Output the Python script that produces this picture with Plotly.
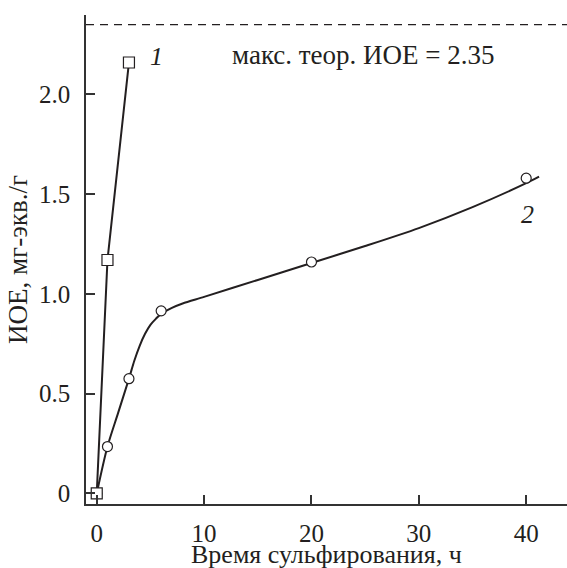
import plotly.graph_objects as go

# Sulfonation time, h, and ion-exchange capacity (IEC), mg-eq/g
time_1 = [0, 1, 3]
iec_1 = [0, 1.17, 2.16]

time_2 = [0, 1, 3, 6, 20, 40]
iec_2 = [0, 0.235, 0.575, 0.915, 1.16, 1.58]

# smoothed trend drawn through series 2
trend_time_2 = [0, 1, 2, 3, 3.5, 4, 4.5, 5, 5.5, 6, 7, 8, 10, 15, 20, 25, 30, 35, 40, 41.2]
trend_iec_2 = [0, 0.235, 0.405, 0.575, 0.665, 0.74, 0.8, 0.845, 0.875, 0.9, 0.93, 0.952, 0.985, 1.07, 1.155, 1.24, 1.33, 1.435, 1.555, 1.588]

max_theor_iec = 2.35

x_ticks = [0, 10, 20, 30, 40]
y_ticks = [0, 0.5, 1.0, 1.5, 2.0]
y_tick_labels = ["0", "0.5", "1.0", "1.5", "2.0"]

FONT = "Liberation Serif"
INK = "#231f20"
AXIS = "#333333"

fig = go.Figure()

# theoretical maximum, dashed
fig.add_trace(go.Scatter(
    x=[-1, 43.8], y=[max_theor_iec, max_theor_iec], mode="lines",
    line=dict(color=INK, width=1.3, dash="8px,6px"), hoverinfo="skip",
))

# series 2: smooth curve then markers
fig.add_trace(go.Scatter(
    x=trend_time_2, y=trend_iec_2, mode="lines",
    line=dict(color=INK, width=2, shape="spline", smoothing=0.8),
))
fig.add_trace(go.Scatter(
    x=time_2, y=iec_2, mode="markers",
    marker=dict(symbol="circle", size=10, color="white", line=dict(color=INK, width=1.2)),
))

# series 1: straight segments with square markers
fig.add_trace(go.Scatter(
    x=time_1, y=iec_1, mode="lines+markers",
    line=dict(color=INK, width=2),
    marker=dict(symbol="square", size=11, color="white", line=dict(color=INK, width=1.2)),
))

fig.add_annotation(x=24.87, y=2.20, text="макс. теор. ИОЕ = 2.35", showarrow=False,
                   font=dict(family=FONT, size=27, color=INK), xanchor="center", yanchor="middle")
fig.add_annotation(x=5.55, y=2.19, text="<i>1</i>", showarrow=False,
                   font=dict(family=FONT, size=26, color=INK), xanchor="center", yanchor="middle")
fig.add_annotation(x=40.1, y=1.40, text="<i>2</i>", showarrow=False,
                   font=dict(family=FONT, size=26, color=INK), xanchor="center", yanchor="middle")

# x-axis title, set just below the tick labels
fig.add_annotation(x=0.5, y=-0.0695, xref="paper", yref="paper", text="Время сульфирования, ч",
                   showarrow=False, font=dict(family=FONT, size=26, color=INK),
                   xanchor="center", yanchor="top")

axis_common = dict(
    showgrid=False, zeroline=False, showline=True, linecolor=AXIS, linewidth=1.5,
    ticks="inside", ticklen=9, tickwidth=1.5, tickcolor=AXIS, mirror=False,
    tickfont=dict(family=FONT, size=25, color=INK),
)

fig.update_layout(
    width=567, height=568,
    margin=dict(l=86, r=0, t=15, b=64, autoexpand=False),
    paper_bgcolor="white", plot_bgcolor="white",
    showlegend=False,
    xaxis=dict(range=[-1, 43.8], tickvals=x_ticks, ticklabelstandoff=6, automargin=False,
               **axis_common),
    yaxis=dict(range=[-0.053, 2.398], tickvals=y_ticks, ticktext=y_tick_labels, ticklabelstandoff=9,
               automargin=False,
               title=dict(text="ИОЕ, мг-экв./г", font=dict(family=FONT, size=27, color=INK), standoff=4),
               **axis_common),
)

fig.write_html("out.html")
